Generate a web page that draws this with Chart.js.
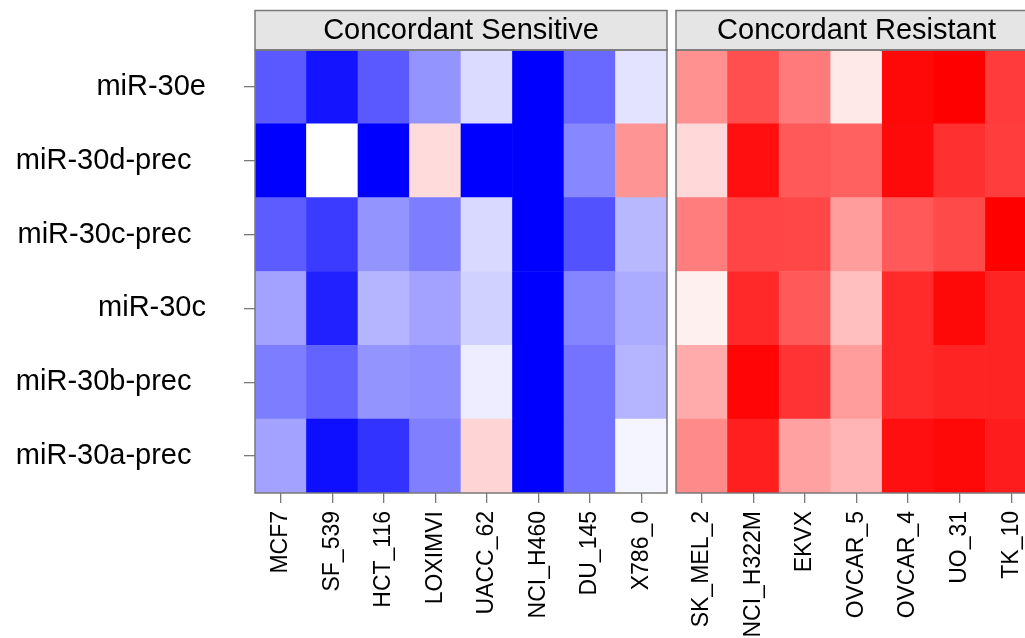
<!DOCTYPE html>
<html>
<head>
<meta charset="utf-8">
<script src="https://cdn.jsdelivr.net/npm/chart.js@4.4.1/dist/chart.umd.min.js"></script>
<style>
  html, body { margin: 0; padding: 0; background: #ffffff; overflow: hidden; width: 1025px; height: 638px; }
  canvas { position: absolute; top: 0; }
  #sensitive { left: 0; }
  #resistant { left: 668px; }
</style>
</head>
<body>
<canvas id="sensitive" width="668" height="638"></canvas>
<canvas id="resistant" width="380" height="638"></canvas>
<script>
// miRNA rows, listed top to bottom (precursor names carry a trailing en space)
const rowLabels = ['miR-30e', 'miR-30d-prec\u2002', 'miR-30c-prec\u2002', 'miR-30c', 'miR-30b-prec\u2002', 'miR-30a-prec\u2002'];

// cell lines of each panel
const sensitiveLines = ['MCF7', 'SF_539', 'HCT_116', 'LOXIMVI', 'UACC_62', 'NCI_H460', 'DU_145', 'X786_0'];
const resistantLines = ['SK_MEL_2', 'NCI_H322M', 'EKVX', 'OVCAR_5', 'OVCAR_4', 'UO_31', 'TK_10'];

// scaled scores (-1 = deep blue, 0 = white, 1 = deep red), one row per miRNA
const sensitiveScores = [
  [-0.65, -0.92, -0.65, -0.42, -0.14, -1.00, -0.59, -0.11],
  [-1.00,  0.00, -1.00,  0.14, -1.00, -1.00, -0.47,  0.42],
  [-0.64, -0.77, -0.42, -0.51, -0.15, -1.00, -0.68, -0.28],
  [-0.36, -0.87, -0.29, -0.36, -0.18, -1.00, -0.48, -0.33],
  [-0.51, -0.61, -0.42, -0.44, -0.07, -1.00, -0.55, -0.29],
  [-0.36, -0.94, -0.80, -0.50,  0.17, -1.00, -0.55, -0.04]
];
const resistantScores = [
  [0.43, 0.69, 0.52, 0.09, 0.97, 1.00, 0.77],
  [0.15, 0.94, 0.65, 0.62, 0.96, 0.81, 0.76],
  [0.51, 0.73, 0.72, 0.39, 0.65, 0.71, 1.00],
  [0.06, 0.84, 0.65, 0.25, 0.83, 0.97, 0.86],
  [0.33, 0.98, 0.80, 0.39, 0.83, 0.86, 0.86],
  [0.46, 0.88, 0.37, 0.29, 0.94, 0.97, 0.89]
];

const FONT = '"Liberation Sans", Arial, Helvetica, sans-serif';
const FRAME = '#7a7a7a';

function scoreColor(v) {
  if (v < 0) {
    const c = Math.round(255 * (1 + v));
    return `rgb(${c},${c},255)`;
  }
  const c = Math.round(255 * (1 - v));
  return `rgb(255,${c},${c})`;
}

// strip header and frame around the heat cells
const panelFrame = {
  id: 'panelFrame',
  afterDatasetsDraw(chart, args, opts) {
    const { ctx, chartArea: a } = chart;
    const stripH = 39.5;
    ctx.save();
    ctx.fillStyle = '#e5e5e5';
    ctx.fillRect(a.left, a.top - stripH, a.right - a.left, stripH);
    ctx.strokeStyle = FRAME;
    ctx.lineWidth = 1.5;
    ctx.strokeRect(a.left, a.top - stripH, a.right - a.left, stripH);
    ctx.strokeRect(a.left, a.top, a.right - a.left, a.bottom - a.top);
    ctx.fillStyle = '#000000';
    ctx.font = `29px ${FONT}`;
    ctx.textAlign = 'center';
    ctx.textBaseline = 'middle';
    ctx.fillText(opts.title, (a.left + a.right) / 2, a.top - stripH / 2 + 1);
    ctx.restore();
  }
};

function buildHeatmap(canvasId, lines, scores, title, showRows, padding) {
  const nRows = rowLabels.length;
  const datasets = [];
  // stacked from the bottom row upward
  for (let r = nRows - 1; r >= 0; r--) {
    datasets.push({
      label: rowLabels[r].trim(),
      data: lines.map(() => 1),
      backgroundColor: scores[r].map(scoreColor),
      borderWidth: 0,
      barPercentage: 1,
      categoryPercentage: 1
    });
  }
  return new Chart(document.getElementById(canvasId), {
    type: 'bar',
    data: { labels: lines, datasets },
    options: {
      responsive: false,
      animation: false,
      events: [],
      layout: { padding },
      plugins: {
        legend: { display: false },
        tooltip: { enabled: false },
        panelFrame: { title }
      },
      scales: {
        x: {
          stacked: true,
          grid: { offset: false, drawOnChartArea: false, drawTicks: true, tickLength: 10, color: FRAME, lineWidth: 1.3 },
          border: { display: false },
          ticks: {
            autoSkip: false,
            minRotation: 90,
            maxRotation: 90,
            padding: 8,
            color: '#000000',
            font: { family: FONT, size: 23 }
          },
          afterFit(scale) {
            scale.height = 145;
            scale.paddingLeft = 0;
            scale.paddingRight = 0;
          }
        },
        y: {
          display: showRows,
          stacked: true,
          min: 0,
          max: nRows,
          grid: { drawOnChartArea: false, drawTicks: true, tickLength: 11, color: FRAME, lineWidth: 1.3 },
          border: { display: false },
          afterBuildTicks(scale) {
            scale.ticks = rowLabels.map((_, i) => ({ value: i + 0.5 }));
          },
          ticks: {
            padding: 38,
            color: '#000000',
            font: { family: FONT, size: 29 },
            callback: (value) => rowLabels[nRows - 1 - Math.floor(value)]
          },
          afterFit(scale) {
            scale.width = showRows ? 255 : 0;
            scale.paddingTop = 0;
            scale.paddingBottom = 0;
          }
        }
      }
    },
    plugins: [panelFrame]
  });
}

buildHeatmap('sensitive', sensitiveLines, sensitiveScores, 'Concordant Sensitive', true,
  { top: 50, left: 0, right: 1, bottom: 0 });
buildHeatmap('resistant', resistantLines, resistantScores, 'Concordant Resistant', false,
  { top: 50, left: 8, right: 11, bottom: 0 });
</script>
</body>
</html>
